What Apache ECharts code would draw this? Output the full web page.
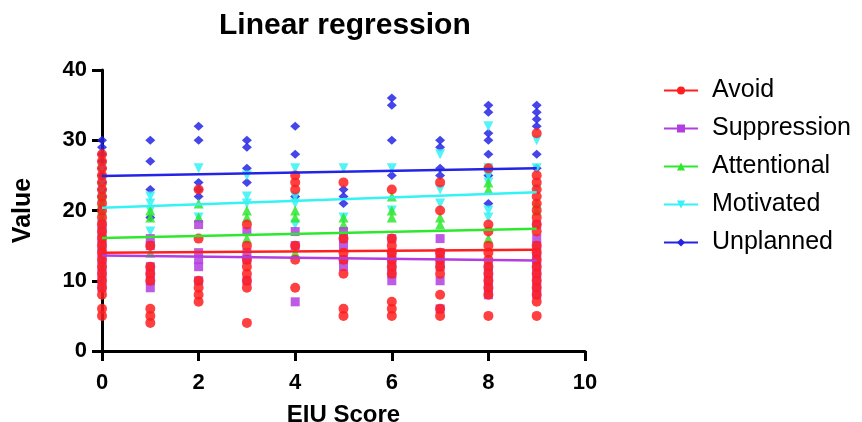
<!DOCTYPE html>
<html>
<head>
<meta charset="utf-8">
<title>Linear regression</title>
<script src="https://cdn.jsdelivr.net/npm/echarts@6/dist/echarts.min.js"></script>
<style>
  html, body { margin: 0; padding: 0; background: #fff; }
  #chart { width: 862px; height: 422px; }
</style>
</head>
<body>
<div id="chart"></div>
<script>
// EIU score on x, one list of y values for each score 0..9
const seriesNames = ['Avoid', 'Suppression', 'Attentional', 'Motivated', 'Unplanned']

const avoid = [
  [28, 27, 26, 25, 24, 23, 22, 21, 20, 19, 18, 17, 16, 15, 14, 13, 12, 11, 10, 9, 8, 6, 5],
  [15, 12, 11, 10, 6, 5, 4],
  [23, 16, 10, 9, 8, 7],
  [18, 15, 13, 12, 11, 10, 9, 4],
  [25, 24, 23, 15, 13, 9],
  [24, 16, 14, 13, 11, 6, 5],
  [23, 16, 15, 14, 13, 12, 11, 7, 6, 5],
  [24, 20, 14, 13, 12, 11, 8, 6, 5],
  [26, 18, 17, 15, 14, 13, 12, 11, 10, 9, 8, 5],
  [31, 25, 24, 23, 22, 21, 20, 19, 18, 17, 15, 14, 13, 12, 11, 10, 9, 8, 7, 5]
]
const suppression = [
  [18, 17, 16, 15, 14, 13, 12, 11, 10, 9],
  [16, 15, 12, 11, 10, 9],
  [18, 14, 13, 12, 10],
  [17, 14, 13, 10],
  [17, 15, 7],
  [17, 16, 15, 13, 12],
  [16, 14, 13, 12, 11, 10],
  [16, 14, 13, 12, 10, 6],
  [12, 11, 10, 9, 8],
  [18, 16, 15, 14, 13, 12, 11, 10, 9, 8]
]
const attentional = [
  [22, 21, 20, 19, 18, 17, 16, 15],
  [20, 19, 14],
  [21, 19],
  [20, 19, 16],
  [20, 19, 14],
  [19, 18],
  [22, 20, 19],
  [19, 18],
  [24, 23, 16],
  [21, 20]
]
const motivated = [
  [26, 24, 23, 22, 21, 20, 19],
  [22, 21, 20, 17],
  [26, 19],
  [25, 22, 21],
  [26, 22, 21, 18],
  [26, 19],
  [26, 20],
  [28, 23, 21],
  [32, 26, 25, 24, 20, 19],
  [30, 26, 23]
]
const unplanned = [
  [30, 29, 28, 27, 26, 25, 24, 23, 22],
  [30, 27, 23, 19],
  [32, 30, 24, 23, 22],
  [30, 29, 26, 24],
  [32, 28, 22],
  [23, 22, 21],
  [36, 35, 30, 25],
  [30, 29, 26, 25],
  [35, 34, 31, 30, 28, 26, 25, 21],
  [35, 34, 33, 32, 28, 26]
]

// fitted line values read at x = 0 and x = 9
const fitStart = [14.0, 13.6, 16.1, 20.4, 24.9]
const fitEnd = [14.4, 12.9, 17.4, 22.6, 26.0]
const fitX = [0, 9]

const xTicks = [0, 2, 4, 6, 8, 10]
const yTicks = [0, 10, 20, 30, 40]

const colors = ['#ff1f1f', '#b23ee0', '#2ee82e', '#35f2f5', '#2424e6']
const symbols = ['circle', 'rect', 'triangle', 'path://M0,0 L10,0 L5,9 Z', 'diamond']
const sizes = [10, 9, 10, 10, [10, 9]]

const font = 'Liberation Sans, Arial, sans-serif'

const groups = [avoid, suppression, attentional, motivated, unplanned]

const toPoints = (cols) => {
  const pts = []
  cols.forEach((ys, x) => ys.forEach((y) => pts.push([x, y])))
  return pts
}

const chart = echarts.init(document.getElementById('chart'))

const lineSeries = seriesNames.map((name, i) => ({
  name: name,
  type: 'line',
  z: 4,
  symbol: symbols[i],
  symbolSize: 8,
  showSymbol: false,
  silent: true,
  lineStyle: { color: colors[i], width: 2.5 },
  itemStyle: { color: colors[i] },
  data: fitX.map((x, k) => [x, k === 0 ? fitStart[i] : fitEnd[i]])
}))

// draw order: Unplanned first, Avoid on top
const scatterSeries = seriesNames.map((name, i) => ({
  name: name,
  type: 'scatter',
  z: 2 + (4 - i) * 0.1,
  symbol: symbols[i],
  symbolSize: sizes[i],
  itemStyle: { color: colors[i], opacity: 0.85 },
  data: toPoints(groups[i])
})).reverse()

const options = {
  animation: false,
  title: {
    text: 'Linear regression',
    left: 214,
    top: 6,
    textStyle: { fontFamily: font, fontSize: 30, fontWeight: 'bold', color: '#000' }
  },
  legend: {
    data: seriesNames,
    orient: 'vertical',
    left: 658,
    top: 73,
    itemWidth: 34,
    itemHeight: 10,
    itemGap: 13,
    textStyle: { fontFamily: font, fontSize: 25, color: '#000', padding: [0, 0, 0, 9] }
  },
  grid: { left: 102, right: 277, top: 70, bottom: 71, outerBoundsMode: 'none' },
  xAxis: {
    type: 'value',
    min: xTicks[0],
    max: xTicks[xTicks.length - 1],
    interval: 2,
    name: 'EIU Score',
    nameLocation: 'middle',
    nameGap: 52,
    nameTextStyle: { fontFamily: font, fontSize: 24, fontWeight: 'bold', color: '#000' },
    axisLine: { onZero: false, lineStyle: { color: '#000', width: 3 } },
    axisTick: { length: 10, lineStyle: { color: '#000', width: 3 } },
    axisLabel: { margin: 21, fontFamily: font, fontSize: 22, fontWeight: 'bold', color: '#000' },
    splitLine: { show: false }
  },
  yAxis: {
    type: 'value',
    min: yTicks[0],
    max: yTicks[yTicks.length - 1],
    interval: 10,
    name: 'Value',
    nameLocation: 'middle',
    nameGap: 66,
    nameTextStyle: { fontFamily: font, fontSize: 25, fontWeight: 'bold', color: '#000' },
    axisLine: { show: true, onZero: false, lineStyle: { color: '#000', width: 3 } },
    axisTick: { show: true, length: 10, lineStyle: { color: '#000', width: 3 } },
    axisLabel: { margin: 15, fontFamily: font, fontSize: 22, fontWeight: 'bold', color: '#000' },
    splitLine: { show: false }
  },
  series: lineSeries.concat(scatterSeries)
}

chart.setOption(options)

window.addEventListener('resize', () => {
  chart.resize()
})
</script>
</body>
</html>
